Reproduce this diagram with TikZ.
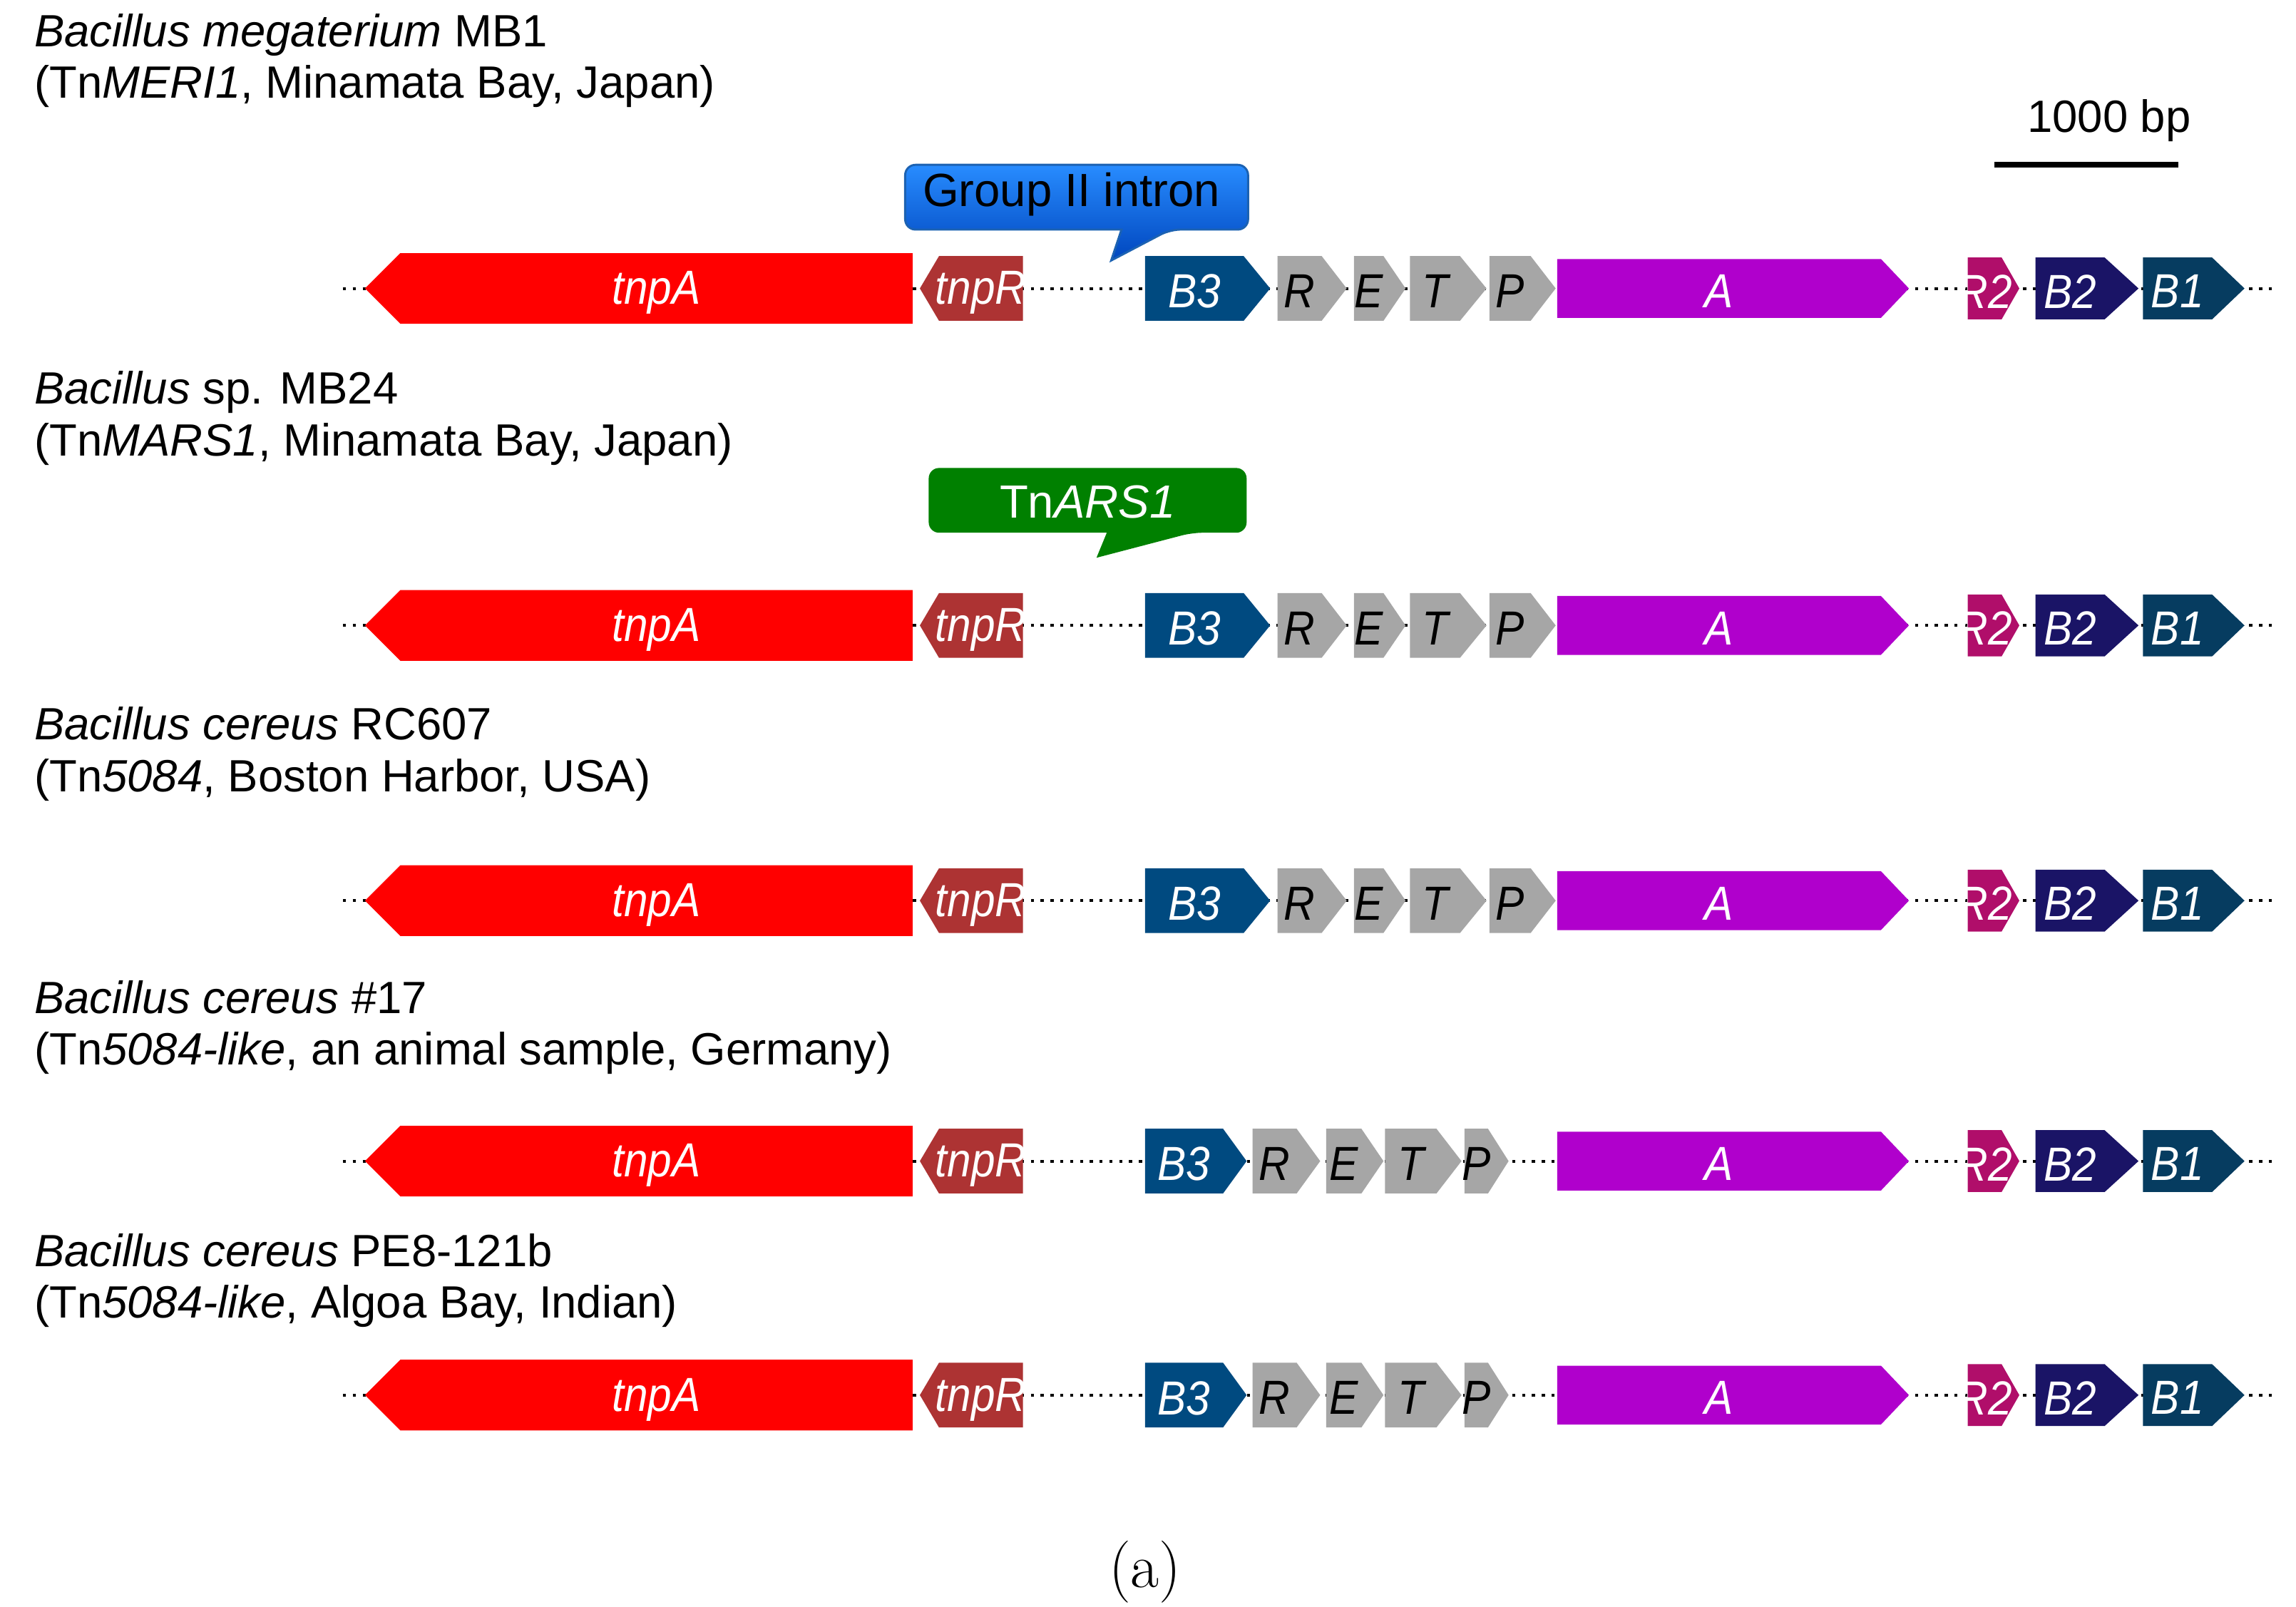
\documentclass[tikz,border=0pt]{standalone}
\usepackage{fontspec}
\setmainfont{Liberation Sans}
\newfontfamily\serifa{Latin Modern Roman}
\definecolor{ctnpA}{RGB}{255,0,0}
\definecolor{ctnpR}{RGB}{173,51,51}
\definecolor{cB3}{RGB}{0,74,128}
\definecolor{cgray}{RGB}{166,166,166}
\definecolor{cA}{RGB}{176,0,204}
\definecolor{cR2}{RGB}{176,14,106}
\definecolor{cB2}{RGB}{26,20,102}
\definecolor{cB1}{RGB}{6,60,96}
\definecolor{cblueT}{RGB}{40,140,255}
\definecolor{cblueB}{RGB}{0,70,190}
\definecolor{cgreen}{RGB}{0,128,0}
\tikzset{
  glab/.style={font=\fontsize{18.5}{20}\selectfont\itshape,text=white,inner sep=0pt,xscale=0.9},
  dlab/.style={font=\fontsize{18.5}{20}\selectfont\itshape,text=black,inner sep=0pt,xscale=0.9},
  title/.style={font=\fontsize{17.5}{20}\selectfont,anchor=north west,align=left,inner sep=0pt},
  dots/.style={line width=1.1pt,dash pattern=on 1.2pt off 2.6pt}
}
\newcommand\rgene[8]{%
  \fill[#6] (#1,{#4-#5}) -- (#2,{#4-#5}) -- (#3,#4) -- (#2,{#4+#5}) -- (#1,{#4+#5}) -- cycle;
  \node[#8] at ({(#1+#2)/2},{#4+2}) {#7};}
\newcommand\lgene[7]{%
  \fill[#6] (#3,{#4-#5}) -- (#2,{#4-#5}) -- (#1,#4) -- (#2,{#4+#5}) -- (#3,{#4+#5}) -- cycle;
  \node[glab] at ({(#2+#3)/2},{#4+3}) {#7};}
\begin{document}
\begin{tikzpicture}[x=0.02cm,y=-0.02cm]
\useasboundingbox (0,0) rectangle (1560,1092);
\node[title] (t1) at (23,9) {\textit{Bacillus megaterium} MB1\\(Tn\textit{MERI1}, Minamata Bay, Japan)};
\node[title] (t2) at (23,252) {\textit{Bacillus} sp. MB24\\(Tn\textit{MARS1}, Minamata Bay, Japan)};
\node[title] (t3) at (23,480) {\textit{Bacillus cereus} RC607\\(Tn\textit{5084}, Boston Harbor, USA)};
\node[title] (t4) at (23,666) {\textit{Bacillus cereus \#}17\\(Tn\textit{5084-like}, an animal sample, Germany)};
\node[title] (t5) at (23,838) {\textit{Bacillus cereus} PE8-121b\\(Tn\textit{5084-like}, Algoa Bay, Indian)};
\draw[line width=2.2pt] (1355,112) -- (1480,112);
\node[font=\fontsize{17.5}{20}\selectfont] (sb) at (1433,82) {1000 bp};
\foreach \y in {196,425,612}{
  \draw[dots] (233,\y) -- (1545,\y);
  \lgene{248}{272}{620}{\y}{24}{ctnpA}{tnpA}
  \lgene{625}{638}{695}{\y}{22}{ctnpR}{tnpR}
  \rgene{778}{845}{863}{\y}{22}{cB3}{B3}{glab}
  \rgene{868}{898}{915}{\y}{22}{cgray}{R}{dlab}
  \rgene{920}{940}{955}{\y}{22}{cgray}{E}{dlab}
  \rgene{958}{992}{1010}{\y}{22}{cgray}{T}{dlab}
  \rgene{1012}{1040}{1057}{\y}{22}{cgray}{P}{dlab}
  \rgene{1058}{1278}{1297}{\y}{20}{cA}{A}{glab}
  \rgene{1337}{1360}{1372}{\y}{21}{cR2}{R2}{glab}
  \rgene{1383}{1430}{1453}{\y}{21}{cB2}{B2}{glab}
  \rgene{1456}{1503}{1525}{\y}{21}{cB1}{B1}{glab}
}
\foreach \y in {789,948}{
  \draw[dots] (233,\y) -- (1545,\y);
  \lgene{248}{272}{620}{\y}{24}{ctnpA}{tnpA}
  \lgene{625}{638}{695}{\y}{22}{ctnpR}{tnpR}
  \rgene{778}{831}{847}{\y}{22}{cB3}{B3}{glab}
  \rgene{851}{881}{897}{\y}{22}{cgray}{R}{dlab}
  \rgene{901}{925}{940}{\y}{22}{cgray}{E}{dlab}
  \rgene{941}{976}{993}{\y}{22}{cgray}{T}{dlab}
  \rgene{995}{1011}{1025}{\y}{22}{cgray}{P}{dlab}
  \rgene{1058}{1278}{1297}{\y}{20}{cA}{A}{glab}
  \rgene{1337}{1360}{1372}{\y}{21}{cR2}{R2}{glab}
  \rgene{1383}{1430}{1453}{\y}{21}{cB2}{B2}{glab}
  \rgene{1456}{1503}{1525}{\y}{21}{cB1}{B1}{glab}
}
\shadedraw[top color=cblueT,bottom color=cblueB,draw=cblueT!70!black,line width=0.8pt,rounded corners=4pt]
  (615,112) -- (848,112) -- (848,156) -- (795,156) [sharp corners] -- (755,177) -- (762,156) [rounded corners=4pt] -- (615,156) -- cycle;
\node[font=\fontsize{18}{20}\selectfont] (gi) at (728,132) {Group II intron};
\fill[cgreen,rounded corners=4pt] (631,318) -- (847,318) -- (847,362) -- (810,362) [sharp corners] -- (745,379) -- (752,362) [rounded corners=4pt] -- (631,362) -- cycle;
\node[font=\fontsize{18}{20}\selectfont,text=white] (ars) at (739,341) {Tn\textit{ARS1}};
\node[font=\serifa\fontsize{24}{26}\selectfont] (cap) at (778,1068) {(a)};
\end{tikzpicture}
\end{document}
